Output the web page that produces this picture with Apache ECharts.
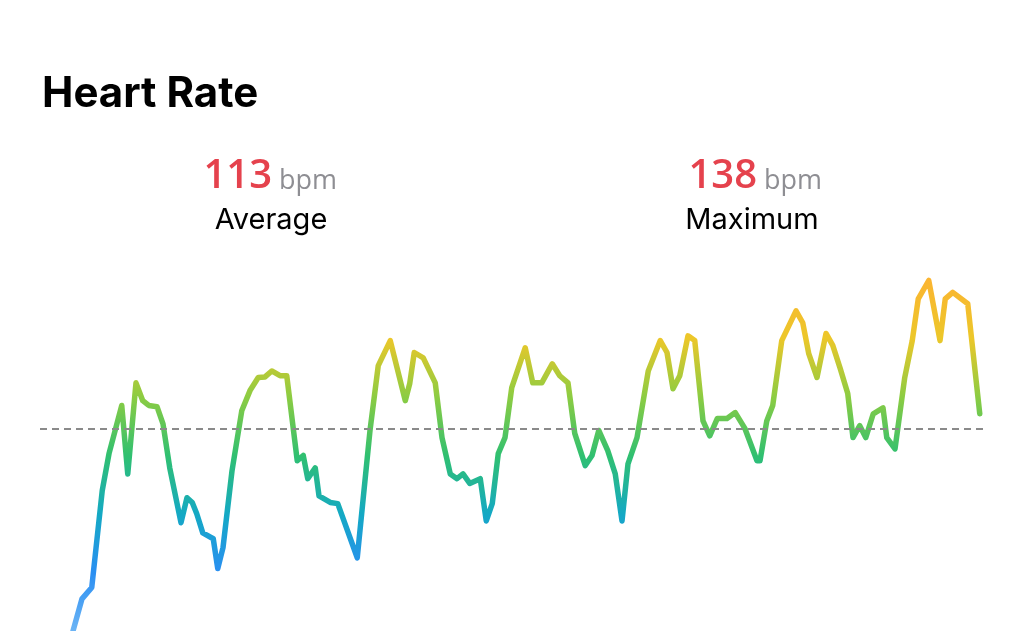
<!DOCTYPE html>
<html>
<head>
<meta charset="utf-8">
<script src="https://cdn.jsdelivr.net/npm/echarts@6/dist/echarts.min.js"></script>
<style>
html,body{margin:0;padding:0;background:#fff;}
#chart{width:1024px;height:631px;}
</style>
</head>
<body>
<div id="chart"></div>
<script>
// Elapsed time (minutes) of each sample
const minutes = [4.4,5.6,6.9,8.3,9.2,10.9,11.7,12.8,13.7,14.5,15.6,16.4,17.3,18.8,19.6,20.3,20.9,21.7,23.1,23.7,24.4,25.6,26.9,28.0,29.1,30.0,30.9,32.0,32.9,34.3,35.1,35.7,36.7,37.2,38.7,39.7,42.3,44.0,45.1,46.7,48.7,49.3,49.9,51.1,52.7,53.6,54.7,55.6,56.4,57.3,58.7,59.5,60.3,61.1,62.0,62.9,64.7,65.7,66.9,68.3,69.3,70.4,71.3,72.7,73.6,74.5,75.7,76.7,77.6,78.4,79.6,81.1,82.7,83.6,84.4,85.3,86.4,87.3,88.4,89.3,90.3,91.6,92.7,94.0,95.6,96.0,96.9,97.7,98.9,100.8,101.7,102.5,103.6,104.8,105.7,106.7,107.7,108.4,109.3,110.1,111.1,112.4,112.9,114.0,115.3,116.3,117.1,118.5,120.0,120.7,121.7,123.7,125.3];
// Heart rate (bpm) of each sample
const bpm = [79,84.4,86.3,102.6,108.8,116.9,105.4,120.7,117.7,116.9,116.7,113.8,106.4,97.2,101.4,100.6,98.7,95.5,94.5,89.5,93.0,105.9,116.0,119.4,121.6,121.7,122.7,121.9,121.9,107.6,108.5,104.6,106.4,101.7,100.6,100.4,91.3,112.7,123.6,127.8,117.7,120.6,125.8,124.9,120.7,111.5,105.4,104.6,105.4,103.8,104.6,97.5,100.4,108.8,111.5,119.9,126.6,120.7,120.7,123.9,121.9,120.7,112.2,106.8,108.5,112.7,109.3,105.4,97.5,107.1,111.5,122.7,127.8,125.8,119.7,121.9,128.6,127.8,114.3,111.8,114.7,114.7,115.7,113.0,107.6,107.6,114.3,116.9,127.8,132.8,130.8,125.6,121.6,129.0,127.0,123.1,118.9,111.5,113.5,111.5,115.5,116.5,111.5,109.6,121.6,127.8,134.8,137.9,127.8,134.8,135.9,134.0,115.5];
// Summary values shown in the header
const averageBpm = 113;
const maximumBpm = 138;
const titleText = 'Heart Rate';
const unitText = 'bpm';
const averageLabel = 'Average';
const maximumLabel = 'Maximum';

const points = minutes.map((m, i) => [m, bpm[i]]);
const FONT = 'Inter, "Noto Sans", sans-serif';
const NUMFONT = '"Open Sans", Inter, sans-serif';

const chart = echarts.init(document.getElementById('chart'));
chart.setOption({
  backgroundColor: '#ffffff',
  animation: false,
  grid: { left: 40, right: 39, top: 268, bottom: 0 },
  xAxis: { type: 'value', min: 0, max: 126, show: false },
  yAxis: { type: 'value', min: 79, max: 140, show: false },
  visualMap: {
    show: false,
    type: 'continuous',
    dimension: 1,
    seriesIndex: 0,
    min: 79,
    max: 138,
    inRange: { color: ['#6cb4f5', '#2a8ff2', '#14a9c4', '#30c070', '#8ccc42', '#ecc72a', '#fbb531'] }
  },
  series: [{
    type: 'line',
    data: points,
    showSymbol: false,
    symbol: 'none',
    clip: false,
    lineStyle: { width: 5.5, join: 'round', cap: 'round' },
    markLine: {
      silent: true,
      symbol: 'none',
      label: { show: false },
      lineStyle: { color: '#8a8a8a', type: [7, 5], width: 2 },
      data: [{ yAxis: averageBpm }]
    }
  }],
  graphic: [
    { type: 'text', left: 42, top: 73, style: { text: titleText, font: '700 42px ' + FONT, fill: '#000' } },
    { type: 'text', x: 272, y: 197, style: { text: String(averageBpm), font: '600 40px ' + NUMFONT, fill: '#e5424d', textAlign: 'right', textVerticalAlign: 'bottom' } },
    { type: 'text', x: 279, y: 195, style: { text: unitText, font: '400 27px ' + NUMFONT, fill: '#8e8e93', textAlign: 'left', textVerticalAlign: 'bottom' } },
    { type: 'text', x: 271, y: 235, style: { text: averageLabel, font: '400 29px ' + FONT, fill: '#000', textAlign: 'center', textVerticalAlign: 'bottom' } },
    { type: 'text', x: 757, y: 197, style: { text: String(maximumBpm), font: '600 40px ' + NUMFONT, fill: '#e5424d', textAlign: 'right', textVerticalAlign: 'bottom' } },
    { type: 'text', x: 764, y: 195, style: { text: unitText, font: '400 27px ' + NUMFONT, fill: '#8e8e93', textAlign: 'left', textVerticalAlign: 'bottom' } },
    { type: 'text', x: 752, y: 235, style: { text: maximumLabel, font: '400 29px ' + FONT, fill: '#000', textAlign: 'center', textVerticalAlign: 'bottom' } }
  ]
});
</script>
</body>
</html>
